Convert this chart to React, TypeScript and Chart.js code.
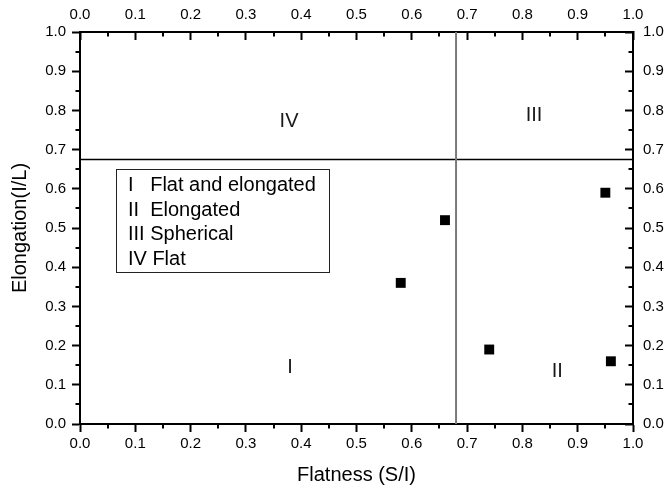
import React, { useEffect, useRef } from 'react';
import { Chart, registerables } from 'chart.js';

Chart.register(...registerables);

// ---- data ----
const flatness = [0.58, 0.66, 0.74, 0.95, 0.96];
const elongation = [0.36, 0.52, 0.19, 0.59, 0.16];
const flatnessLimit = 0.68;
const elongationLimit = 0.675;
const regionLabels = ['I', 'II', 'III', 'IV'];
const regionX = [0.38, 0.863, 0.821, 0.378];
const regionY = [0.143, 0.135, 0.786, 0.771];
const legendLines = ['I   Flat and elongated', 'II  Elongated', 'III Spherical', 'IV Flat'];
const axisMin = 0;
const axisMax = 1;
const majorStep = 0.1;
const minorValues = [0.05, 0.15, 0.25, 0.35, 0.45, 0.55, 0.65, 0.75, 0.85, 0.95];
const xTitle = 'Flatness (S/I)';
const yTitle = 'Elongation(I/L)';

const FONT = 'Arial, "Liberation Sans", sans-serif';

const decorPlugin = {
  id: 'decor',
  afterDraw(chart: any) {
    const { ctx, chartArea, scales } = chart;
    const sx = scales.x;
    const sy = scales.y;
    ctx.save();
    // minor ticks
    ctx.strokeStyle = '#000';
    ctx.lineWidth = 2;
    const ml = 4.5;
    ctx.beginPath();
    minorValues.forEach((v) => {
      const px = Math.round(sx.getPixelForValue(v));
      const py = Math.round(sy.getPixelForValue(v));
      // bottom (outward)
      ctx.moveTo(px, chartArea.bottom);
      ctx.lineTo(px, chartArea.bottom + ml);
      // top (inward)
      ctx.moveTo(px, chartArea.top);
      ctx.lineTo(px, chartArea.top + ml);
      // left (outward)
      ctx.moveTo(chartArea.left, py);
      ctx.lineTo(chartArea.left - ml, py);
      // right (inward)
      ctx.moveTo(chartArea.right, py);
      ctx.lineTo(chartArea.right - ml, py);
    });
    ctx.stroke();

    // region labels
    ctx.fillStyle = '#1a1a1a';
    ctx.font = `20px ${FONT}`;
    ctx.textAlign = 'center';
    ctx.textBaseline = 'middle';
    regionLabels.forEach((t, i) => {
      ctx.fillText(t, sx.getPixelForValue(regionX[i]), sy.getPixelForValue(regionY[i]));
    });

    // legend box
    const bx = sx.getPixelForValue(0.065);
    const by = sy.getPixelForValue(0.65);
    const bw = 213;
    const bh = 103;
    ctx.fillStyle = '#fff';
    ctx.fillRect(bx, by, bw, bh);
    ctx.strokeStyle = '#222';
    ctx.lineWidth = 1;
    ctx.strokeRect(Math.round(bx) + 0.5, Math.round(by) + 0.5, bw, bh);
    ctx.fillStyle = '#000';
    ctx.textAlign = 'left';
    legendLines.forEach((t, i) => {
      ctx.fillText(t, bx + 12, by + 16.5 + i * 24.6);
    });
    ctx.restore();
  },
};

export default function App() {
  const ref = useRef<HTMLCanvasElement | null>(null);

  useEffect(() => {
    if (!ref.current) return;
    const tickFont = { family: FONT, size: 15 };
    const titleFont = { family: FONT, size: 20 };
    const fmt = (v: any) => Number(v).toFixed(1);
    const common = (tickLength: number, padding: number) => ({
      type: 'linear' as const,
      min: axisMin,
      max: axisMax,
      ticks: { stepSize: majorStep, callback: fmt, color: '#000', font: tickFont, padding, maxRotation: 0, autoSkip: false },
      grid: { drawOnChartArea: false, drawTicks: true, tickLength, tickColor: '#000', tickWidth: 2 },
      border: { display: true, color: '#000', width: 2 },
    });

    const chart = new Chart(ref.current, {
      type: 'scatter',
      data: {
        datasets: [
          {
            type: 'line',
            data: [{ x: flatnessLimit, y: axisMin }, { x: flatnessLimit, y: axisMax }],
            borderColor: '#7a7a7a',
            borderWidth: 2,
            pointRadius: 0,
            xAxisID: 'x',
            yAxisID: 'y',
          },
          {
            type: 'line',
            data: [{ x: axisMin, y: elongationLimit }, { x: axisMax, y: elongationLimit }],
            borderColor: '#000',
            borderWidth: 1.5,
            pointRadius: 0,
            xAxisID: 'x',
            yAxisID: 'y',
          },
          {
            type: 'scatter',
            data: flatness.map((x, i) => ({ x, y: elongation[i] })),
            pointStyle: 'rect',
            pointRadius: 7,
            backgroundColor: '#000',
            borderWidth: 0,
            xAxisID: 'x',
            yAxisID: 'y',
          },
        ] as any,
      },
      options: {
        responsive: false,
        maintainAspectRatio: false,
        animation: false,
        devicePixelRatio: 1,
        layout: { padding: 0 },
        plugins: { legend: { display: false }, tooltip: { enabled: false } },
        scales: {
          x: {
            ...common(8, 3),
            position: 'bottom',
            title: { display: true, text: xTitle, color: '#000', font: titleFont, padding: { top: 0, bottom: 4 } },
            afterFit: (s: any) => { s.height = 67; },
          },
          x2: {
            ...common(-8, 16),
            position: 'top',
            afterFit: (s: any) => { s.height = 32; },
          },
          y: {
            ...common(8, 6),
            position: 'left',
            title: { display: true, text: yTitle, color: '#000', font: titleFont, padding: { top: 8, bottom: 0 } },
            afterFit: (s: any) => { s.width = 80; },
          },
          y2: {
            ...common(-8, 18),
            position: 'right',
            afterFit: (s: any) => { s.width = 35; },
          },
        } as any,
      },
      plugins: [decorPlugin],
    });
    return () => chart.destroy();
  }, []);

  return (
    <div style={{ position: 'fixed', left: 0, top: 0, width: 668, height: 491, background: '#fff' }}>
      <canvas ref={ref} width={668} height={491} style={{ display: 'block' }} />
    </div>
  );
}
